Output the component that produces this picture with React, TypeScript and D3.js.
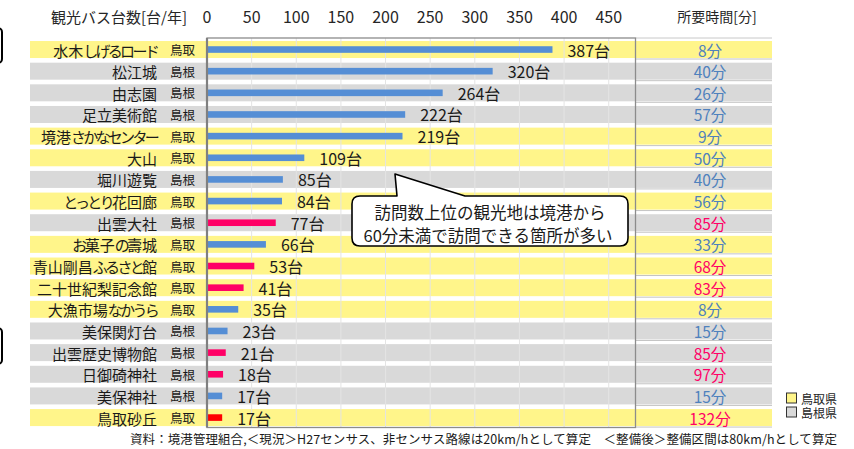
import React, { useEffect } from 'react';
import * as d3 from 'd3';

// spots ordered as in the chart
const spots = [
  '水木しげるロード', '松江城', '由志園', '足立美術館', '境港さかなセンター', '大山',
  '堀川遊覧', 'とっとり花回廊', '出雲大社', 'お菓子の壽城', '青山剛昌ふるさと館',
  '二十世紀梨記念館', '大漁市場なかうら', '美保関灯台', '出雲歴史博物館',
  '日御碕神社', '美保神社', '鳥取砂丘',
];
const prefs = [
  '鳥取', '島根', '島根', '島根', '鳥取', '鳥取', '島根', '鳥取', '島根', '鳥取',
  '鳥取', '鳥取', '鳥取', '島根', '島根', '島根', '島根', '鳥取',
];
const busCounts = [387, 320, 264, 222, 219, 109, 85, 84, 77, 66, 53, 41, 35, 23, 21, 18, 17, 17];
const minutes = [8, 40, 26, 57, 9, 50, 40, 56, 85, 33, 68, 83, 8, 15, 85, 97, 15, 132];
const xTicks = [0, 50, 100, 150, 200, 250, 300, 350, 400, 450];

const FONT = '"Noto Sans CJK JP", "Noto Sans", sans-serif';
const YELLOW = '#fff58a';
const GRAY = '#d9d9d9';
const BLUE = '#558ed5';
const PINK = '#ff0066';
const TXT_BLUE = '#4f81bd';

// kana look narrower than kanji in the original font
const isKana = (c: string) => /[\u3040-\u30ff]/.test(c);
const splitRuns = (s: string) => {
  const runs: { t: string; kana: boolean }[] = [];
  for (const c of s) {
    const k = isKana(c);
    const last = runs[runs.length - 1];
    if (last && last.kana === k) last.t += c;
    else runs.push({ t: c, kana: k });
  }
  return runs;
};

export default function App() {
  useEffect(() => {
    document.body.style.margin = '0';
  }, []);

  const x = d3.scaleLinear().domain([0, 480]).range([207, 635.5]);
  const y = d3.scaleBand<string>()
    .domain(spots)
    .range([38.7, 428.4])
    .paddingInner(0.215)
    .paddingOuter(0.1075);
  const bh = y.bandwidth();

  const barColor = (i: number) => {
    if (spots[i] === '鳥取砂丘') return '#ff0000';
    return minutes[i] > 60 ? PINK : BLUE;
  };

  const plotTop = 38;
  const plotBottom = 427.5;

  return (
    <svg width={854} height={449} style={{ position: 'absolute', left: 0, top: 0, fontFamily: FONT }}>
      <rect width={854} height={449} fill="#fff" />

      {/* cropped boxes at the left edge */}
      <rect x={-20} y={28} width={22} height={35} rx={4} fill="none" stroke="#000" strokeWidth={2} />
      <rect x={-20} y={328} width={22} height={36} rx={4} fill="none" stroke="#000" strokeWidth={2} />

      {/* header */}
      <text x={187} y={16} textAnchor="end" dominantBaseline="central" fontSize={15} fill="#262626">
        観光バス台数[台/年]
      </text>
      {xTicks.map(t => (
        <text key={t} x={x(t)} y={16} textAnchor="middle" dominantBaseline="central" fontSize={16} fill="#262626">
          {t}
        </text>
      ))}
      <text x={717} y={16} textAnchor="middle" dominantBaseline="central" fontSize={14} fill="#262626">
        所要時間[分]
      </text>

      {/* row bands */}
      {spots.map((s, i) => (
        <rect key={s} x={30} y={y(s)} width={742} height={bh} fill={prefs[i] === '鳥取' ? YELLOW : GRAY} />
      ))}
      {/* thin lines in the time column */}
      <line x1={636} x2={772} y1={plotTop} y2={plotTop} stroke="#c8c8c8" />
      {spots.map(s => (
        <line key={s} x1={636} x2={772} y1={(y(s) as number) + bh + 1} y2={(y(s) as number) + bh + 1} stroke="#c4c4c4" />
      ))}

      {/* gridlines */}
      {xTicks.slice(1).map(t => (
        <line key={t} x1={x(t)} x2={x(t)} y1={plotTop} y2={plotBottom} stroke="#e4e4e4" strokeWidth={1} />
      ))}

      {/* bars */}
      {spots.map((s, i) => (
        <rect key={s} x={x(0)} y={(y(s) as number) + bh / 2 - 3.3} width={x(busCounts[i]) - x(0)} height={6.6} fill={barColor(i)} />
      ))}

      {/* plot frame */}
      <rect x={207} y={plotTop} width={428.5} height={plotBottom - plotTop} fill="none" stroke="#8c8c8c" strokeWidth={1.3} />
      <line x1={207} x2={207} y1={plotTop} y2={plotBottom} stroke="#808080" strokeWidth={2.2} />

      {/* labels */}
      {spots.map((s, i) => {
        const cy = (y(s) as number) + bh / 2;
        return (
          <g key={s}>
            <text x={157} y={cy} textAnchor="end" dominantBaseline="central" fontSize={15} fill="#1a1a1a">
              {splitRuns(s).map((r, j) => (
                <tspan key={j} letterSpacing={r.kana ? -2.7 : 0}>{r.t}</tspan>
              ))}
            </text>
            <text x={170} y={cy} dominantBaseline="central" fontSize={12.5} fill="#1a1a1a">
              {prefs[i]}
            </text>
            <text x={x(busCounts[i]) + 15} y={cy} dominantBaseline="central" fontSize={16} fill="#1a1a1a">
              {busCounts[i]}台
            </text>
            <text x={710} y={cy} textAnchor="middle" dominantBaseline="central" fontSize={15.5}
              fill={minutes[i] > 60 ? PINK : TXT_BLUE}>
              {minutes[i]}分
            </text>
          </g>
        );
      })}

      {/* callout */}
      <path
        d="M360,196 L397,196 L395,174 L465,196 L620,196 Q628,196 628,204 L628,238 Q628,246 620,246 L360,246 Q352,246 352,238 L352,204 Q352,196 360,196 Z"
        fill="#fff" stroke="#000" strokeWidth={1.6} strokeLinejoin="round"
      />
      <text x={490} y={212} textAnchor="middle" dominantBaseline="central" fontSize={16.5} fill="#1a1a1a">
        訪問数上位の観光地は境港から
      </text>
      <text x={488} y={234.5} textAnchor="middle" dominantBaseline="central" fontSize={16.5} fill="#1a1a1a">
        60分未満で訪問できる箇所が多い
      </text>

      {/* legend */}
      <rect x={786.5} y={393} width={10} height={10} fill={YELLOW} stroke="#333" strokeWidth={1} />
      <text x={801} y={398} dominantBaseline="central" fontSize={12} fill="#262626">鳥取県</text>
      <rect x={786.5} y={407} width={10} height={10} fill={GRAY} stroke="#333" strokeWidth={1} />
      <text x={801} y={412} dominantBaseline="central" fontSize={12} fill="#262626">島根県</text>

      {/* source */}
      <text x={130} y={438} dominantBaseline="central" fontSize={12.5} fill="#1a1a1a" textLength={707} lengthAdjust="spacing">
        資料：境港管理組合,＜現況＞H27センサス、非センサス路線は20km/hとして算定　＜整備後＞整備区間は80km/hとして算定
      </text>
    </svg>
  );
}
